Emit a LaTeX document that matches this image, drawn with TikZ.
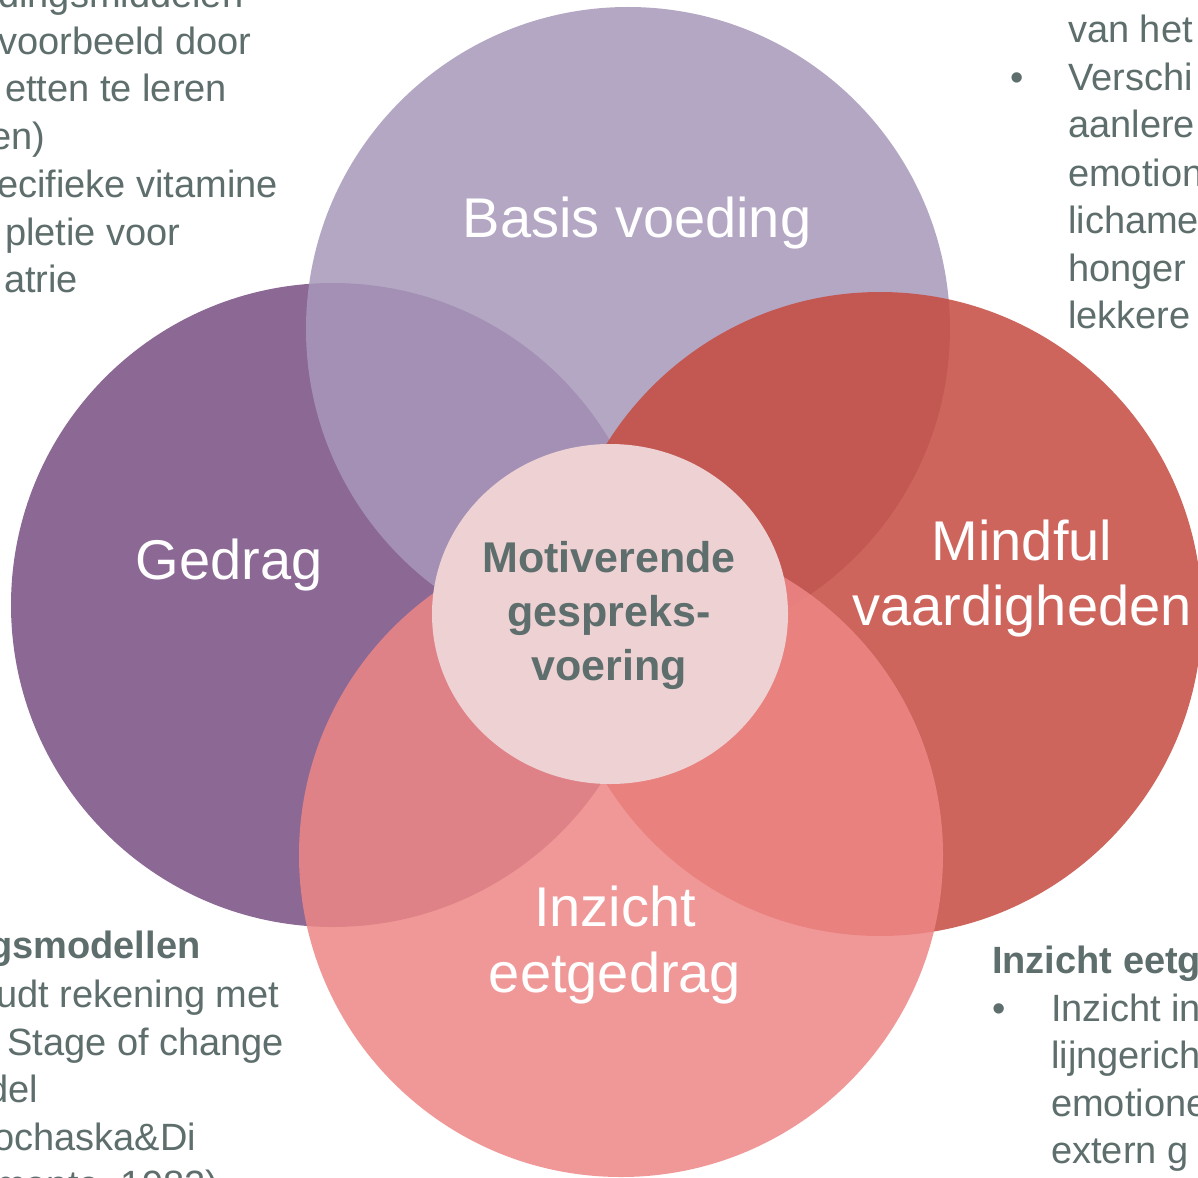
\documentclass[tikz,border=0pt]{standalone}
\usepackage{fontspec}
\usetikzlibrary{shapes.geometric}
\setmainfont{Liberation Sans}
\definecolor{txt}{HTML}{5E6E6C}
\definecolor{cgedrag}{HTML}{8C6895}
\definecolor{cbasis}{HTML}{A898BA}
\definecolor{cmind}{HTML}{C64B40}
\definecolor{cinz}{HTML}{EE8786}
\definecolor{ccenter}{HTML}{EED2D3}
\tikzset{
  body/.style={font=\fontsize{38}{47.4}\selectfont, text=txt, inner sep=0pt},
  bodyb/.style={body, font=\fontsize{38}{47.4}\selectfont\bfseries},
  lbl/.style={font=\fontsize{56}{66}\selectfont, text=white, inner sep=0pt, align=center, anchor=base},
  ring/.style={circle, minimum size=644pt, inner sep=0pt, draw=none},
}
\begin{document}
\begin{tikzpicture}[x=1pt,y=-1pt]
\useasboundingbox (0,0) rectangle (1198,1177);
\clip (0,0) rectangle (1198,1177);
\fill[white] (0,0) rectangle (1198,1177);
% circles
\node[ring, fill=cgedrag] (gedrag) at (333,605) {};
\node[ring, fill=cbasis, fill opacity=0.85] (basis) at (628,329) {};
\node[ring, fill=cmind, fill opacity=0.85] (mind) at (880,614) {};
\node[ring, fill=cinz, fill opacity=0.85] (inz) at (621,855) {};
\node[ellipse, minimum width=356pt, minimum height=340pt, inner sep=0pt, fill=ccenter] (center) at (610,614) {};
% labels (anchor base = baseline of last line)
\node[lbl] (lbasis) at (637,237) {Basis voeding};
\node[lbl] (lgedrag) at (229,579) {Gedrag};
\node[lbl, font=\fontsize{56}{65}\selectfont] (lmind) at (1022,625) {Mindful\\vaardigheden};
\node[lbl, font=\fontsize{56}{66}\selectfont] (linz) at (615,992) {Inzicht\\eetgedrag};
\node[lbl, text=txt, font=\fontsize{43}{54}\selectfont\bfseries] (lcenter) at (609,680) {Motiverende\\gespreks-\\voering};
% top-left text
\node[body, anchor=base west] (tl1) at (-2,8) {dingsmiddelen};
\node[body, anchor=base west] (tl2) at (-2,55) {voorbeeld door};
\node[body, anchor=base west] (tl3) at (5,102) {etten te leren};
\node[body, anchor=base west] (tl4) at (-10,150) {en)};
\node[body, anchor=base west] (tl5) at (-3,197) {ecifieke vitamine};
\node[body, anchor=base west] (tl6) at (5,245) {pletie voor};
\node[body, anchor=base west] (tl7) at (4,292) {atrie};
% top-right text
\node[body, anchor=base west] (tr1) at (1068,43) {van het};
\node[body, anchor=base west] (trb) at (1010,91) {•};
\node[body, anchor=base west] (tr2) at (1068,91) {Verschi};
\node[body, anchor=base west] (tr3) at (1068,138) {aanlere};
\node[body, anchor=base west] (tr4) at (1068,186) {emotion};
\node[body, anchor=base west] (tr5) at (1068,233) {lichame};
\node[body, anchor=base west] (tr6) at (1068,281) {honger};
\node[body, anchor=base west] (tr7) at (1068,328) {lekkere};
% bottom-left text
\node[bodyb, anchor=base west] (bl1) at (-11,958) {gsmodellen};
\node[body, anchor=base west] (bl2) at (-4,1007) {udt rekening met};
\node[body, anchor=base west] (bl3) at (7,1055) {Stage of change};
\node[body, anchor=base west] (bl4) at (-13,1102) {del};
\node[body, anchor=base west] (bl5) at (-7,1150) {ochaska\&Di};
\node[body, anchor=base west] (bl6) at (-6,1197) {mente, 1982)};
% bottom-right text
\node[bodyb, anchor=base west] (br1) at (992,973) {Inzicht eetg};
\node[body, anchor=base west] (brb) at (992,1021) {•};
\node[body, anchor=base west] (br2) at (1051,1021) {Inzicht in};
\node[body, anchor=base west] (br3) at (1051,1068) {lijngerich};
\node[body, anchor=base west] (br4) at (1051,1116) {emotione};
\node[body, anchor=base west] (br5) at (1051,1163) {extern g};
\end{tikzpicture}
\end{document}
